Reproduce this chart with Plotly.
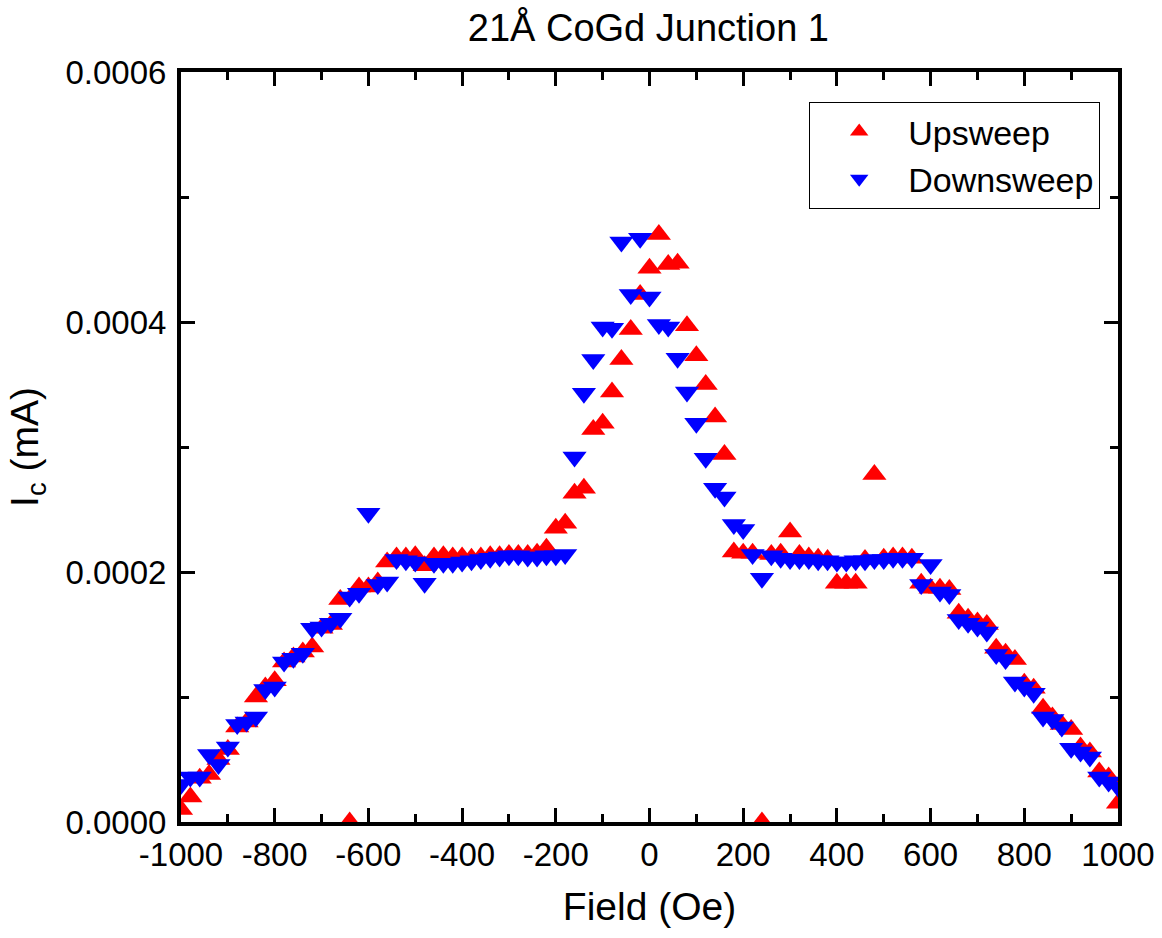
import plotly.graph_objects as go

# Field values (Oe)
field = [-1000, -980, -960, -940, -920, -900, -880, -860, -840, -820,
         -800, -780, -760, -740, -720, -700, -680, -660, -640, -620,
         -600, -580, -560, -540, -520, -500, -480, -460, -440, -420,
         -400, -380, -360, -340, -320, -300, -280, -260, -240, -220,
         -200, -180, -160, -140, -120, -100, -80, -60, -40, -20,
         0, 20, 40, 60, 80, 100, 120, 140, 160, 180,
         200, 220, 240, 260, 280, 300, 320, 340, 360, 380,
         400, 420, 440, 460, 480, 500, 520, 540, 560, 580,
         600, 620, 640, 660, 680, 700, 720, 740, 760, 780,
         800, 820, 840, 860, 880, 900, 920, 940, 960, 980,
         1000]

# Critical current, upsweep (mA)
ic_up = [0.10e-4, 0.20e-4, 0.35e-4, 0.38e-4, 0.50e-4, 0.58e-4, 0.76e-4, 0.80e-4, 1.00e-4, 1.08e-4,
         1.13e-4, 1.28e-4, 1.32e-4, 1.36e-4, 1.40e-4, 1.55e-4, 1.58e-4, 1.78e-4, 0.00e-4, 1.88e-4,
         1.88e-4, 1.92e-4, 2.08e-4, 2.12e-4, 2.12e-4, 2.13e-4, 2.05e-4, 2.12e-4, 2.13e-4, 2.12e-4,
         2.12e-4, 2.11e-4, 2.12e-4, 2.13e-4, 2.13e-4, 2.14e-4, 2.14e-4, 2.14e-4, 2.15e-4, 2.19e-4,
         2.35e-4, 2.39e-4, 2.63e-4, 2.67e-4, 3.14e-4, 3.19e-4, 3.44e-4, 3.70e-4, 3.94e-4, 4.22e-4,
         4.43e-4, 4.70e-4, 4.46e-4, 4.47e-4, 3.97e-4, 3.73e-4, 3.50e-4, 3.24e-4, 2.94e-4, 2.16e-4,
         2.15e-4, 2.15e-4, 0.00e-4, 2.14e-4, 2.15e-4, 2.32e-4, 2.14e-4, 2.12e-4, 2.11e-4, 2.10e-4,
         1.91e-4, 1.91e-4, 1.91e-4, 2.10e-4, 2.78e-4, 2.11e-4, 2.12e-4, 2.12e-4, 2.11e-4, 1.91e-4,
         1.87e-4, 1.87e-4, 1.86e-4, 1.67e-4, 1.63e-4, 1.60e-4, 1.58e-4, 1.39e-4, 1.35e-4, 1.30e-4,
         1.11e-4, 1.07e-4, 0.91e-4, 0.84e-4, 0.78e-4, 0.74e-4, 0.60e-4, 0.56e-4, 0.40e-4, 0.36e-4,
         0.15e-4]

# Critical current, downsweep (mA)
ic_down = [0.30e-4, 0.36e-4, 0.36e-4, 0.54e-4, 0.46e-4, 0.60e-4, 0.78e-4, 0.80e-4, 0.84e-4, 1.06e-4,
           1.08e-4, 1.28e-4, 1.31e-4, 1.35e-4, 1.55e-4, 1.56e-4, 1.59e-4, 1.63e-4, 1.80e-4, 1.83e-4,
           2.47e-4, 1.90e-4, 1.92e-4, 2.10e-4, 2.09e-4, 2.08e-4, 1.91e-4, 2.07e-4, 2.07e-4, 2.07e-4,
           2.08e-4, 2.09e-4, 2.10e-4, 2.11e-4, 2.12e-4, 2.13e-4, 2.13e-4, 2.12e-4, 2.12e-4, 2.13e-4,
           2.13e-4, 2.14e-4, 2.92e-4, 3.43e-4, 3.70e-4, 3.96e-4, 3.95e-4, 4.64e-4, 4.22e-4, 4.67e-4,
           4.20e-4, 3.98e-4, 3.96e-4, 3.71e-4, 3.44e-4, 3.19e-4, 2.91e-4, 2.67e-4, 2.60e-4, 2.38e-4,
           2.34e-4, 2.14e-4, 1.95e-4, 2.13e-4, 2.11e-4, 2.10e-4, 2.10e-4, 2.10e-4, 2.09e-4, 2.09e-4,
           2.08e-4, 2.08e-4, 2.09e-4, 2.09e-4, 2.10e-4, 2.10e-4, 2.11e-4, 2.11e-4, 2.11e-4, 1.90e-4,
           2.06e-4, 1.84e-4, 1.82e-4, 1.62e-4, 1.59e-4, 1.56e-4, 1.52e-4, 1.34e-4, 1.30e-4, 1.12e-4,
           1.08e-4, 1.03e-4, 0.84e-4, 0.82e-4, 0.76e-4, 0.59e-4, 0.56e-4, 0.52e-4, 0.36e-4, 0.32e-4,
           0.28e-4]

x_tickvals = [-1000, -800, -600, -400, -200, 0, 200, 400, 600, 800, 1000]
x_ticktext = ["-1000", "-800", "-600", "-400", "-200", "0", "200", "400", "600", "800", "1000"]
y_tickvals = [0.0, 0.0002, 0.0004, 0.0006]
y_ticktext = ["0.0000", "0.0002", "0.0004", "0.0006"]

FONT = "Liberation Sans, Arial, sans-serif"

fig = go.Figure()
fig.add_trace(go.Scatter(
    x=field, y=ic_up, mode="markers", name="Upsweep",
    marker=dict(symbol="triangle-up", size=21, color="#FF0000", line=dict(width=0)),
))
fig.add_trace(go.Scatter(
    x=field, y=ic_down, mode="markers", name="Downsweep",
    marker=dict(symbol="triangle-down", size=21, color="#0000FF", line=dict(width=0)),
))

axis_common = dict(
    showline=True, linewidth=4, linecolor="black", mirror="allticks",
    ticks="inside", ticklen=14, tickwidth=3, tickcolor="black",
    showgrid=False, zeroline=False, automargin=False,
    tickfont=dict(family=FONT, size=33, color="black"),
)

fig.update_xaxes(
    range=[-1000, 1000], tickvals=x_tickvals, ticktext=x_ticktext,
    minor=dict(ticks="inside", ticklen=8, tickwidth=3, tickcolor="black", dtick=100, tick0=0),
    title=dict(text="Field (Oe)", font=dict(family=FONT, size=39, color="black"), standoff=22),
    **axis_common,
)
fig.update_yaxes(
    range=[0, 0.0006], tickvals=y_tickvals, ticktext=y_ticktext,
    minor=dict(ticks="inside", ticklen=8, tickwidth=3, tickcolor="black", dtick=0.0001, tick0=0),
    title=dict(text="I<sub>c</sub> (mA)", font=dict(family=FONT, size=39, color="black"), standoff=16),
    ticklabelstandoff=4,
    **axis_common,
)

fig.update_layout(
    width=1162, height=938,
    margin=dict(l=181, r=44, t=72, b=116),
    paper_bgcolor="white", plot_bgcolor="white",
    title=dict(text="21Å CoGd Junction 1", x=0.558, xanchor="center", y=0.97, yanchor="middle",
               font=dict(family=FONT, size=38, color="black")),
    legend=dict(
        x=0.981, y=0.96, xanchor="right", yanchor="top",
        bgcolor="white", bordercolor="black", borderwidth=1,
        font=dict(family=FONT, size=34, color="black"),
        itemwidth=88,
    ),
    showlegend=True,
)

fig.write_html("out.html")
